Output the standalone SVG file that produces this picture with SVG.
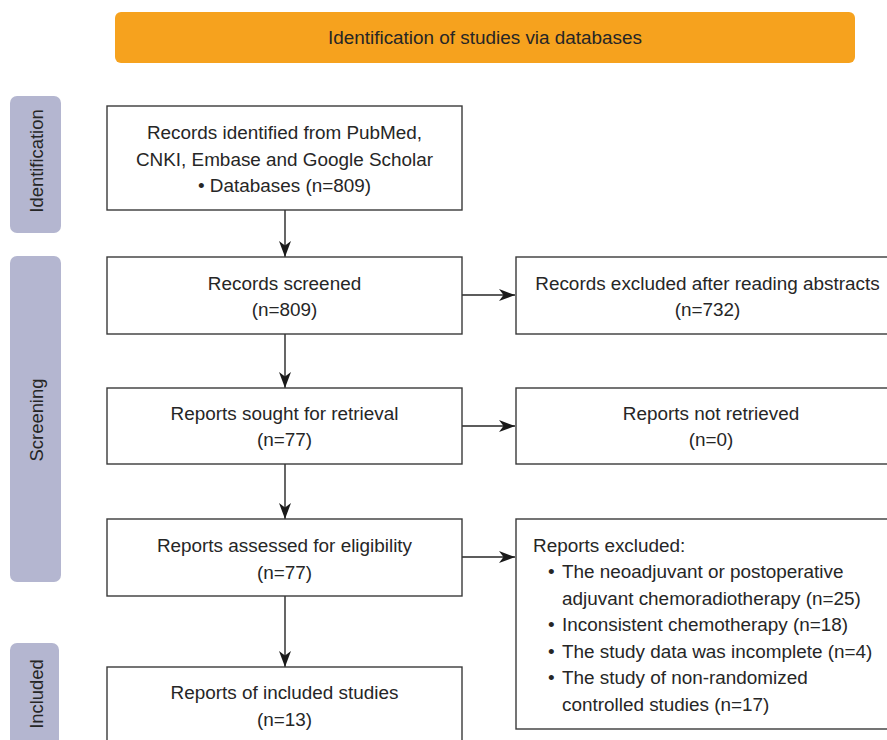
<svg xmlns="http://www.w3.org/2000/svg" width="887" height="740" viewBox="0 0 887 740">
<style>
.box{fill:#fff;stroke:#3a3a3a;stroke-width:1.4}
.side{fill:#b4b6d0}
.t{font-family:"Liberation Sans",Arial,sans-serif;font-size:18.9px;fill:#262626}
.c{text-anchor:middle}
.s{font-family:"Liberation Sans",Arial,sans-serif;font-size:18.4px;fill:#262626;text-anchor:middle}
.con{stroke:#262626;stroke-width:1.4;fill:none;marker-end:url(#ah)}
</style>
<defs>
<marker id="ah" markerUnits="userSpaceOnUse" markerWidth="18" markerHeight="14" viewBox="-17 -7 17 14" refX="0" refY="0" orient="auto">
<path d="M0,0 L-16,-6 L-11.5,0 L-16,6 Z" fill="#1a1a1a"/>
</marker>
</defs>
<rect width="887" height="740" fill="#fff"/>
<g id="banner">
<rect x="115" y="12" width="740" height="51" rx="6" fill="#f6a21e"/>
<text class="t c" x="485" y="44">Identification of studies via databases</text>
</g>
<g id="phase-identification">
<rect class="side" x="10" y="96" width="51" height="137" rx="7"/>
<text class="s" transform="translate(42.5,161) rotate(-90)">Identification</text>
</g>
<g id="phase-screening">
<rect class="side" x="10" y="256" width="51" height="326" rx="7"/>
<text class="s" transform="translate(42.5,420) rotate(-90)">Screening</text>
</g>
<g id="phase-included">
<rect class="side" x="10" y="643" width="49" height="110" rx="7"/>
<text class="s" transform="translate(42.5,694) rotate(-90)">Included</text>
</g>
<g id="connectors">
<line class="con" x1="285" y1="210" x2="285" y2="257"/>
<line class="con" x1="285" y1="334" x2="285" y2="388"/>
<line class="con" x1="285" y1="464" x2="285" y2="519"/>
<line class="con" x1="285" y1="596" x2="285" y2="667"/>
<line class="con" x1="462" y1="295" x2="515" y2="295"/>
<line class="con" x1="462" y1="426" x2="515" y2="426"/>
<line class="con" x1="462" y1="557" x2="515" y2="557"/>
</g>
<g id="records-identified">
<rect class="box" x="107" y="106" width="355" height="104"/>
<text class="t c" x="284.5" y="139">Records identified from PubMed,</text>
<text class="t c" x="284.5" y="165.5">CNKI, Embase and Google Scholar</text>
<text class="t c" x="284.5" y="192">• Databases (n=809)</text>
</g>
<g id="records-screened">
<rect class="box" x="107" y="257" width="355" height="77"/>
<text class="t c" x="284.5" y="289.5">Records screened</text>
<text class="t c" x="284.5" y="316">(n=809)</text>
</g>
<g id="records-excluded">
<rect class="box" x="516" y="257" width="390" height="77"/>
<text class="t c" x="707.5" y="289.5">Records excluded after reading abstracts</text>
<text class="t c" x="707.5" y="316">(n=732)</text>
</g>
<g id="reports-sought">
<rect class="box" x="107" y="388" width="355" height="76"/>
<text class="t c" x="284.5" y="419.5">Reports sought for retrieval</text>
<text class="t c" x="284.5" y="446">(n=77)</text>
</g>
<g id="reports-not-retrieved">
<rect class="box" x="516" y="388" width="390" height="76"/>
<text class="t c" x="711" y="419.5">Reports not retrieved</text>
<text class="t c" x="711" y="446">(n=0)</text>
</g>
<g id="reports-assessed">
<rect class="box" x="107" y="519" width="355" height="77"/>
<text class="t c" x="284.5" y="552">Reports assessed for eligibility</text>
<text class="t c" x="284.5" y="578.5">(n=77)</text>
</g>
<g id="reports-excluded">
<rect class="box" x="516" y="519" width="390" height="210"/>
<text class="t" x="533" y="552">Reports excluded:</text>
<text class="t" x="548" y="578">•</text>
<text class="t" x="562" y="578">The neoadjuvant or postoperative</text>
<text class="t" x="562" y="604.5">adjuvant chemoradiotherapy (n=25)</text>
<text class="t" x="548" y="631">•</text>
<text class="t" x="562" y="631">Inconsistent chemotherapy (n=18)</text>
<text class="t" x="548" y="657.5">•</text>
<text class="t" x="562" y="657.5">The study data was incomplete (n=4)</text>
<text class="t" x="548" y="684">•</text>
<text class="t" x="562" y="684">The study of non-randomized</text>
<text class="t" x="562" y="710.5">controlled studies (n=17)</text>
</g>
<g id="reports-included">
<rect class="box" x="107" y="667" width="355" height="90"/>
<text class="t c" x="284.5" y="699">Reports of included studies</text>
<text class="t c" x="284.5" y="725.5">(n=13)</text>
</g>
</svg>
